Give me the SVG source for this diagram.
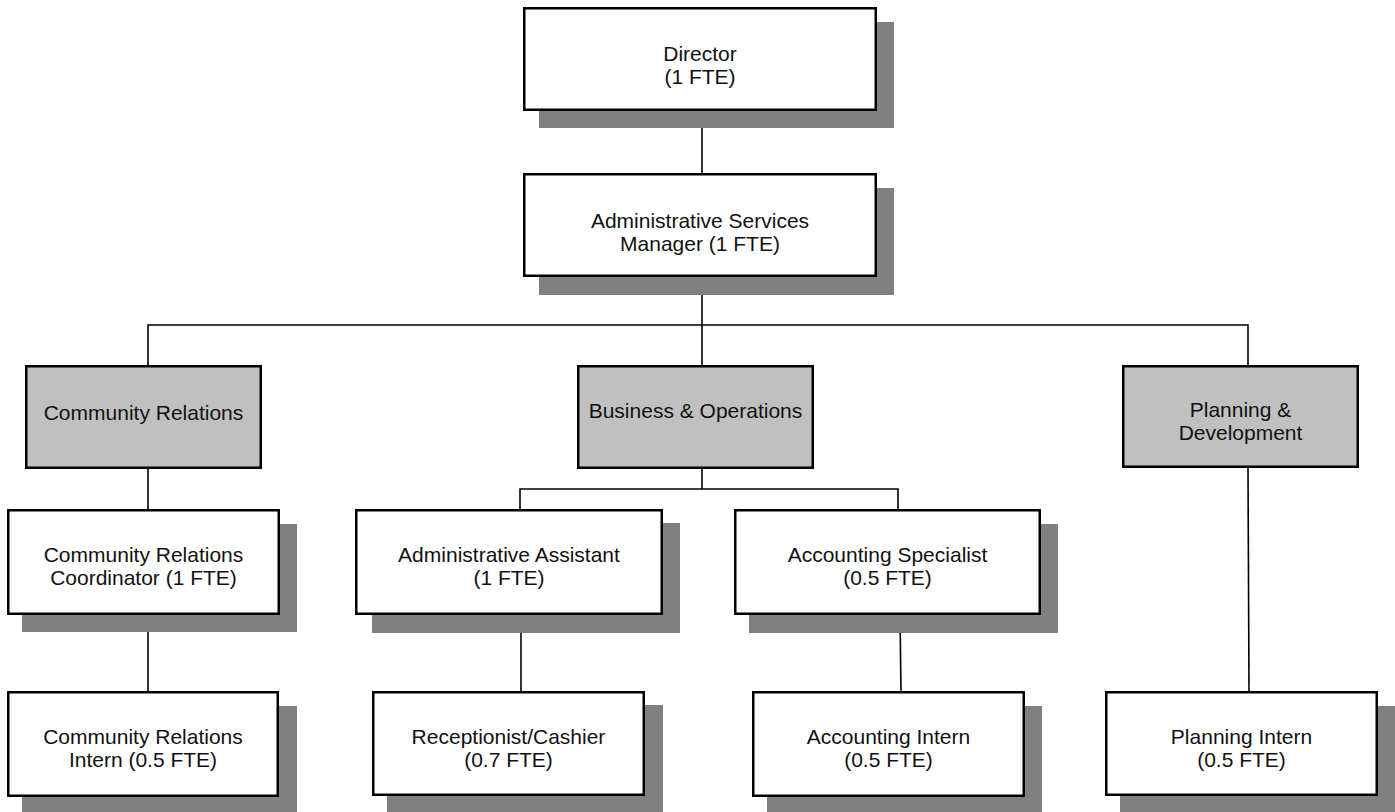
<svg xmlns="http://www.w3.org/2000/svg" width="1395" height="812" viewBox="0 0 1395 812">
<style>
.sh{fill:#808080;stroke:none}
.bx{fill:#ffffff;stroke:#000;stroke-width:2.5}
.gb{fill:#c0c0c0;stroke:#000;stroke-width:2.5}
.t{font-family:"Liberation Sans",Arial,sans-serif;font-size:21px;fill:#111;text-anchor:middle}
.cn{stroke:#000;stroke-width:1.6;fill:none}
</style>
<rect width="1395" height="812" fill="#fff"/>
<g id="connectors">
<path class="cn" d="M702 111V173"/>
<path class="cn" d="M702 277V325"/>
<path class="cn" d="M148 365V325H1248V365"/>
<path class="cn" d="M702 325V365"/>
<path class="cn" d="M148 469V509"/>
<path class="cn" d="M148 615V691"/>
<path class="cn" d="M702 469V489"/>
<path class="cn" d="M520 509V489H898V509"/>
<path class="cn" d="M521 615V691"/>
<path class="cn" d="M900 615L901 691"/>
<path class="cn" d="M1248 468L1249 691"/>
</g>
<g id="director">
<rect class="sh" x="539" y="22" width="355" height="106"/>
<rect class="bx" x="524.25" y="8.25" width="351.5" height="101.5"/>
<text class="t" x="700" y="61">Director</text>
<text class="t" x="700" y="84">(1 FTE)</text>
</g>
<g id="asm">
<rect class="sh" x="539" y="188" width="355" height="107"/>
<rect class="bx" x="524.25" y="174.25" width="351.5" height="101.5"/>
<text class="t" x="700" y="228">Administrative Services</text>
<text class="t" x="700" y="251">Manager (1 FTE)</text>
</g>
<g id="community-relations">
<rect class="gb" x="26.25" y="366.25" width="234.5" height="101.5"/>
<text class="t" x="143.5" y="420">Community Relations</text>
</g>
<g id="business-operations">
<rect class="gb" x="578.25" y="366.25" width="234.5" height="101.5"/>
<text class="t" x="695.5" y="418">Business &amp; Operations</text>
</g>
<g id="planning-development">
<rect class="gb" x="1123.25" y="366.25" width="234.5" height="100.5"/>
<text class="t" x="1240.5" y="417">Planning &amp;</text>
<text class="t" x="1240.5" y="440">Development</text>
</g>
<g id="cr-coordinator">
<rect class="sh" x="22" y="524" width="275" height="108"/>
<rect class="bx" x="8.25" y="510.25" width="270.5" height="103.5"/>
<text class="t" x="143.5" y="562">Community Relations</text>
<text class="t" x="143.5" y="585">Coordinator (1 FTE)</text>
</g>
<g id="admin-assistant">
<rect class="sh" x="372" y="523" width="308" height="110"/>
<rect class="bx" x="356.25" y="510.25" width="305.5" height="103.5"/>
<text class="t" x="509" y="562">Administrative Assistant</text>
<text class="t" x="509" y="585">(1 FTE)</text>
</g>
<g id="accounting-specialist">
<rect class="sh" x="749" y="524" width="309" height="109"/>
<rect class="bx" x="735.25" y="510.25" width="304.5" height="103.5"/>
<text class="t" x="887.5" y="562">Accounting Specialist</text>
<text class="t" x="887.5" y="585">(0.5 FTE)</text>
</g>
<g id="cr-intern">
<rect class="sh" x="22" y="706" width="275" height="106"/>
<rect class="bx" x="8.25" y="692.25" width="269.5" height="103.5"/>
<text class="t" x="143" y="744">Community Relations</text>
<text class="t" x="143" y="767">Intern (0.5 FTE)</text>
</g>
<g id="receptionist">
<rect class="sh" x="387" y="705" width="276" height="107"/>
<rect class="bx" x="373.25" y="692.25" width="270.5" height="102.5"/>
<text class="t" x="508.5" y="744">Receptionist/Cashier</text>
<text class="t" x="508.5" y="767">(0.7 FTE)</text>
</g>
<g id="accounting-intern">
<rect class="sh" x="767" y="706" width="275" height="106"/>
<rect class="bx" x="753.25" y="692.25" width="270.5" height="103.5"/>
<text class="t" x="888.5" y="744">Accounting Intern</text>
<text class="t" x="888.5" y="767">(0.5 FTE)</text>
</g>
<g id="planning-intern">
<rect class="sh" x="1120" y="706" width="275" height="106"/>
<rect class="bx" x="1106.25" y="692.25" width="270.5" height="102.5"/>
<text class="t" x="1241.5" y="744">Planning Intern</text>
<text class="t" x="1241.5" y="767">(0.5 FTE)</text>
</g>
</svg>
